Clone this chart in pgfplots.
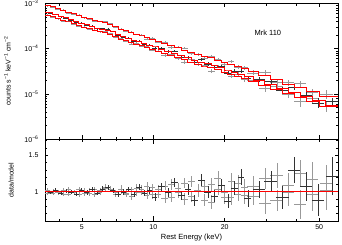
\documentclass[border=0pt]{standalone}
\usepackage{pgfplots}
\pgfplotsset{compat=1.18}
\usepackage{pgfplotstable}
\usepackage{fontspec}
\setmainfont{Liberation Sans}

\pgfplotstableread{
E dE M F dF R dR
3.589 0.091 9.185e-4 9.001e-4 2.76e-5 0.98 0.03
3.776 0.096 8.418e-4 8.502e-4 2.53e-5 1.01 0.03
3.972 0.100 7.716e-4 7.639e-4 2.31e-5 0.99 0.03
4.178 0.106 7.073e-4 7.214e-4 2.12e-5 1.02 0.03
4.395 0.111 6.480e-4 6.286e-4 1.94e-5 0.97 0.03
4.624 0.117 5.940e-4 5.940e-4 1.78e-5 1.00 0.03
4.864 0.123 5.445e-4 5.608e-4 1.91e-5 1.03 0.035
5.117 0.129 4.991e-4 4.891e-4 1.75e-5 0.98 0.035
5.383 0.136 4.575e-4 4.621e-4 1.60e-5 1.01 0.035
5.662 0.143 4.193e-4 4.025e-4 1.47e-5 0.96 0.035
5.957 0.151 3.978e-4 4.058e-4 1.39e-5 1.02 0.035
6.266 0.159 3.818e-4 4.009e-4 1.34e-5 1.05 0.035
6.592 0.167 3.499e-4 3.639e-4 1.40e-5 1.04 0.04
6.934 0.175 3.063e-4 3.032e-4 1.23e-5 0.99 0.04
7.295 0.185 2.711e-4 2.738e-4 1.08e-5 1.01 0.04
7.674 0.194 2.485e-4 2.410e-4 9.94e-6 0.97 0.04
8.072 0.204 2.278e-4 2.346e-4 9.11e-6 1.03 0.04
8.492 0.215 2.088e-4 2.067e-4 9.40e-6 0.99 0.045
8.933 0.226 1.914e-4 1.991e-4 8.61e-6 1.04 0.045
9.397 0.238 1.754e-4 1.666e-4 7.89e-6 0.95 0.045
9.886 0.250 1.608e-4 1.704e-4 8.04e-6 1.06 0.05
10.47 0.343 1.456e-4 1.412e-4 8.74e-6 0.97 0.06
11.17 0.366 1.303e-4 1.407e-4 7.82e-6 1.08 0.06
11.91 0.391 1.167e-4 1.085e-4 7.59e-6 0.93 0.065
12.71 0.417 1.044e-4 1.096e-4 7.31e-6 1.05 0.07
13.55 0.444 9.346e-5 1.047e-4 6.54e-6 1.12 0.07
14.45 0.474 8.366e-5 7.864e-5 6.27e-6 0.94 0.075
15.42 0.506 7.486e-5 7.636e-5 5.99e-6 1.02 0.08
16.44 0.539 6.857e-5 6.103e-5 5.49e-6 0.89 0.08
17.54 0.575 6.281e-5 6.909e-5 5.34e-6 1.10 0.085
18.71 0.614 5.621e-5 5.846e-5 5.06e-6 1.04 0.09
19.95 0.654 5.031e-5 4.629e-5 4.53e-6 0.92 0.09
21.28 0.698 4.502e-5 5.177e-5 4.50e-6 1.15 0.10
22.70 0.745 4.030e-5 3.909e-5 4.03e-6 0.97 0.10
24.21 0.794 3.607e-5 3.823e-5 3.97e-6 1.06 0.11
26.30 1.56 3.127e-5 2.939e-5 3.75e-6 0.94 0.12
29.51 1.75 2.566e-5 3.028e-5 3.59e-6 1.18 0.14
33.11 1.96 2.057e-5 1.810e-5 3.09e-6 0.88 0.15
37.15 2.20 1.650e-5 1.799e-5 2.81e-6 1.09 0.17
41.69 2.47 1.353e-5 1.691e-5 2.57e-6 1.25 0.19
46.77 2.77 1.110e-5 1.066e-5 2.44e-6 0.96 0.22
53.70 3.18 8.751e-6 9.80e-6 2.19e-6 1.12 0.25
}\specA

\pgfplotstableread{
E dE M F dF R dR
3.682 0.093 6.240e-4 6.178e-4 1.56e-5 0.99 0.025
3.874 0.098 5.719e-4 5.833e-4 1.43e-5 1.02 0.025
4.075 0.103 5.242e-4 5.137e-4 1.31e-5 0.98 0.025
4.287 0.109 4.805e-4 4.853e-4 1.20e-5 1.01 0.025
4.509 0.114 4.403e-4 4.403e-4 1.32e-5 1.00 0.03
4.744 0.120 4.036e-4 3.915e-4 1.21e-5 0.97 0.03
4.990 0.126 3.699e-4 3.773e-4 1.11e-5 1.02 0.03
5.250 0.133 3.391e-4 3.357e-4 1.02e-5 0.99 0.03
5.523 0.140 3.108e-4 3.201e-4 9.32e-6 1.03 0.03
5.809 0.147 2.849e-4 2.792e-4 8.55e-6 0.98 0.03
6.112 0.155 2.703e-4 2.811e-4 9.46e-6 1.04 0.035
6.429 0.163 2.594e-4 2.750e-4 9.08e-6 1.06 0.035
6.763 0.171 2.377e-4 2.425e-4 8.32e-6 1.02 0.035
7.114 0.180 2.081e-4 1.998e-4 7.28e-6 0.96 0.035
7.485 0.190 1.842e-4 1.842e-4 7.37e-6 1.00 0.04
7.874 0.199 1.688e-4 1.739e-4 6.75e-6 1.03 0.04
8.282 0.209 1.548e-4 1.502e-4 6.19e-6 0.97 0.04
8.713 0.221 1.419e-4 1.504e-4 5.68e-6 1.06 0.04
9.165 0.232 1.300e-4 1.274e-4 5.85e-6 0.98 0.045
9.641 0.244 1.192e-4 1.216e-4 5.36e-6 1.02 0.045
10.14 0.257 1.092e-4 1.016e-4 5.46e-6 0.93 0.05
10.82 0.354 9.776e-5 1.046e-4 5.38e-6 1.07 0.055
11.54 0.378 8.748e-5 8.661e-5 5.25e-6 0.99 0.06
12.30 0.404 7.835e-5 8.854e-5 4.70e-6 1.13 0.06
13.13 0.431 7.009e-5 6.659e-5 4.56e-6 0.95 0.065
14.00 0.459 6.275e-5 6.463e-5 4.39e-6 1.03 0.07
14.93 0.490 5.617e-5 4.943e-5 4.21e-6 0.88 0.075
15.93 0.523 5.026e-5 5.830e-5 4.02e-6 1.16 0.08
16.98 0.557 4.604e-5 4.604e-5 3.68e-6 1.00 0.08
18.12 0.594 4.217e-5 3.964e-5 3.58e-6 0.94 0.085
19.33 0.634 3.774e-5 4.114e-5 3.40e-6 1.09 0.09
20.61 0.676 3.378e-5 2.939e-5 3.21e-6 0.87 0.095
21.98 0.721 3.023e-5 3.174e-5 3.02e-6 1.05 0.10
23.45 0.770 2.706e-5 3.247e-5 2.98e-6 1.20 0.11
25.01 0.820 2.422e-5 2.204e-5 2.79e-6 0.91 0.115
27.85 1.65 2.010e-5 2.070e-5 2.41e-6 1.03 0.12
31.25 1.85 1.649e-5 1.880e-5 2.31e-6 1.14 0.14
35.06 2.08 1.322e-5 1.216e-5 2.12e-6 0.92 0.16
39.34 2.33 1.061e-5 1.379e-5 1.91e-6 1.30 0.18
44.15 2.62 8.697e-6 9.306e-6 1.74e-6 1.07 0.20
49.53 2.94 7.135e-6 6.350e-6 1.57e-6 0.89 0.22
56.87 3.37 5.625e-6 6.806e-6 1.46e-6 1.21 0.26
}\specB

\pgfplotstableread{
E dE M F dF R dR
3.589 0.091 5.547e-4 5.658e-4 1.66e-5 1.02 0.03
3.776 0.096 5.084e-4 4.982e-4 1.53e-5 0.98 0.03
3.972 0.100 4.660e-4 4.660e-4 1.40e-5 1.00 0.03
4.178 0.106 4.271e-4 4.143e-4 1.28e-5 0.97 0.03
4.395 0.111 3.913e-4 4.030e-4 1.17e-5 1.03 0.03
4.624 0.117 3.587e-4 3.551e-4 1.26e-5 0.99 0.035
4.864 0.123 3.288e-4 3.156e-4 1.15e-5 0.96 0.035
5.117 0.129 3.014e-4 3.044e-4 1.05e-5 1.01 0.035
5.383 0.136 2.763e-4 2.708e-4 9.67e-6 0.98 0.035
5.662 0.143 2.532e-4 2.608e-4 1.01e-5 1.03 0.04
5.957 0.151 2.402e-4 2.402e-4 9.61e-6 1.00 0.04
6.266 0.159 2.306e-4 2.444e-4 9.22e-6 1.06 0.04
6.592 0.167 2.113e-4 2.176e-4 8.45e-6 1.03 0.04
6.934 0.175 1.850e-4 1.795e-4 8.33e-6 0.97 0.045
7.295 0.185 1.637e-4 1.702e-4 7.37e-6 1.04 0.045
7.674 0.194 1.501e-4 1.471e-4 6.75e-6 0.98 0.045
8.072 0.204 1.376e-4 1.293e-4 6.88e-6 0.94 0.05
8.492 0.215 1.261e-4 1.324e-4 6.31e-6 1.05 0.05
8.933 0.226 1.156e-4 1.156e-4 5.78e-6 1.00 0.05
9.397 0.238 1.059e-4 1.144e-4 5.82e-6 1.08 0.055
9.886 0.250 9.711e-5 9.323e-5 5.34e-6 0.96 0.055
10.47 0.343 8.793e-5 9.057e-5 5.72e-6 1.03 0.065
11.17 0.366 7.869e-5 7.161e-5 5.51e-6 0.91 0.07
11.91 0.391 7.048e-5 7.753e-5 4.93e-6 1.10 0.07
12.71 0.417 6.305e-5 6.242e-5 4.73e-6 0.99 0.075
13.55 0.444 5.644e-5 5.080e-5 4.52e-6 0.90 0.08
14.45 0.474 5.052e-5 5.759e-5 4.04e-6 1.14 0.08
15.42 0.506 4.521e-5 4.566e-5 3.84e-6 1.01 0.085
16.44 0.539 4.141e-5 4.431e-5 3.73e-6 1.07 0.09
17.54 0.575 3.793e-5 3.262e-5 3.60e-6 0.86 0.095
18.71 0.614 3.395e-5 4.006e-5 3.40e-6 1.18 0.10
19.95 0.654 3.038e-5 3.008e-5 3.04e-6 0.99 0.10
21.28 0.698 2.719e-5 2.529e-5 2.99e-6 0.93 0.11
22.70 0.745 2.434e-5 2.726e-5 2.68e-6 1.12 0.11
24.21 0.794 2.178e-5 2.069e-5 2.61e-6 0.95 0.12
26.30 1.56 1.888e-5 2.039e-5 2.45e-6 1.08 0.13
29.51 1.75 1.550e-5 1.318e-5 2.33e-6 0.85 0.15
33.11 1.96 1.242e-5 1.515e-5 2.11e-6 1.22 0.17
37.15 2.20 9.964e-6 9.864e-6 1.79e-6 0.99 0.18
41.69 2.47 8.171e-6 6.782e-6 1.63e-6 0.83 0.20
46.77 2.77 6.703e-6 7.843e-6 1.61e-6 1.17 0.24
53.70 3.18 5.285e-6 5.391e-6 1.43e-6 1.02 0.27
}\specC

\definecolor{dgray}{gray}{0.6}
\definecolor{kgray}{gray}{0.2}

\begin{document}
\begin{tikzpicture}
\useasboundingbox (0,0) rectangle (342pt,244pt);
\begin{axis}[
  scale only axis, width=293pt, height=136pt,
  at={(45pt,105pt)}, anchor=south west,
  xmode=log, xmin=3.5, xmax=60,
  ymode=log, ymin=1e-6, ymax=1.03e-3,
  tick align=inside, xtick pos=both, ytick pos=both,
  axis line style={line width=0.6pt},
  every tick/.style={black, line width=0.5pt},
  major tick length=4pt, minor tick length=2.5pt,
  xtick={5,10,20,50}, minor xtick={4,6,7,8,9,30,40},
  xticklabels={},
  ytick={1e-6,1e-5,1e-4,1e-3},
  yticklabels={10\textsuperscript{−6},10\textsuperscript{−5},10\textsuperscript{−4},10\textsuperscript{−3}},
  minor ytick={2e-6,3e-6,4e-6,5e-6,6e-6,7e-6,8e-6,9e-6,2e-5,3e-5,4e-5,5e-5,6e-5,7e-5,8e-5,9e-5,2e-4,3e-4,4e-4,5e-4,6e-4,7e-4,8e-4,9e-4},
  tick label style={font=\fontsize{7}{8}\selectfont},
  yticklabel style={xshift=-3pt},
  ylabel={counts s\textsuperscript{−1} keV\textsuperscript{−1} cm\textsuperscript{−2}},
  ylabel style={font=\fontsize{7}{8}\selectfont, at={(axis description cs:-0.128,0.5)}, anchor=center},
]
\addplot[dgray, only marks, mark=*, mark size=0pt, error bars/.cd, x dir=both, x explicit, y dir=both, y explicit, error mark=none, error bar style={line width=0.3pt, dgray}] table[x=E, y=F, x error=dE, y error=dF]{\specA};
\addplot[dgray, only marks, mark=*, mark size=0pt, error bars/.cd, x dir=both, x explicit, y dir=both, y explicit, error mark=none, error bar style={line width=0.3pt, dgray}] table[x=E, y=F, x error=dE, y error=dF]{\specC};
\addplot[kgray, only marks, mark=*, mark size=0pt, error bars/.cd, x dir=both, x explicit, y dir=both, y explicit, error mark=none, error bar style={line width=0.3pt, kgray}] table[x=E, y=F, x error=dE, y error=dF]{\specB};
\addplot[red, line width=1pt, const plot mark mid] table[x=E, y=M]{\specA};
\addplot[red, line width=1pt, const plot mark mid] table[x=E, y=M]{\specB};
\addplot[red, line width=1pt, const plot mark mid] table[x=E, y=M]{\specC};
\addplot[red, line width=1pt] coordinates {(3.5,9.185e-4) (3.589,9.185e-4)};
\addplot[red, line width=1pt] coordinates {(53.70,8.751e-6) (60,8.751e-6)};
\addplot[red, line width=1pt] coordinates {(3.5,6.240e-4) (3.682,6.240e-4)};
\addplot[red, line width=1pt] coordinates {(56.87,5.625e-6) (60,5.625e-6)};
\addplot[red, line width=1pt] coordinates {(3.5,5.547e-4) (3.589,5.547e-4)};
\addplot[red, line width=1pt] coordinates {(53.70,5.285e-6) (60,5.285e-6)};
\node[font=\fontsize{7.5}{9}\selectfont] at (axis cs:30.4,2.3e-4) {Mrk 110};
\end{axis}
\begin{axis}[
  scale only axis, width=293pt, height=82pt,
  at={(45pt,23pt)}, anchor=south west,
  xmode=log, xmin=3.5, xmax=60,
  ymin=0.6, ymax=1.72,
  tick align=inside, xtick pos=both, ytick pos=both,
  axis line style={line width=0.6pt},
  every tick/.style={black, line width=0.5pt},
  major tick length=3pt, minor tick length=2pt,
  xtick={5,10,20,50}, minor xtick={4,6,7,8,9,30,40},
  xticklabels={5,10,20,50},
  extra x ticks={10}, extra x tick labels={},
  extra x tick style={major tick length=5pt},
  ytick={1,1.5}, yticklabels={1,1.5},
  minor ytick={0.6,0.7,0.8,0.9,1.1,1.2,1.3,1.4,1.6,1.7},
  tick label style={font=\fontsize{7}{8}\selectfont},
  yticklabel style={xshift=-3pt},
  ylabel={data/model},
  ylabel style={font=\fontsize{7}{8}\selectfont, at={(axis description cs:-0.116,0.5)}, anchor=center},
  xlabel={Rest Energy (keV)},
  xlabel style={font=\fontsize{7.5}{9}\selectfont, at={(axis description cs:0.5,0)}, anchor=center, yshift=-17pt},
]
\addplot[dgray, only marks, mark=*, mark size=0pt, error bars/.cd, x dir=both, x explicit, y dir=both, y explicit, error mark=none, error bar style={line width=0.3pt, dgray}] table[x=E, y=R, x error=dE, y error=dR]{\specA};
\addplot[dgray, only marks, mark=*, mark size=0pt, error bars/.cd, x dir=both, x explicit, y dir=both, y explicit, error mark=none, error bar style={line width=0.3pt, dgray}] table[x=E, y=R, x error=dE, y error=dR]{\specC};
\addplot[kgray, only marks, mark=*, mark size=0pt, error bars/.cd, x dir=both, x explicit, y dir=both, y explicit, error mark=none, error bar style={line width=0.3pt, kgray}] table[x=E, y=R, x error=dE, y error=dR]{\specB};
\addplot[red, line width=1.5pt] coordinates {(3.5,1) (60,1)};
\end{axis}
\end{tikzpicture}
\end{document}
